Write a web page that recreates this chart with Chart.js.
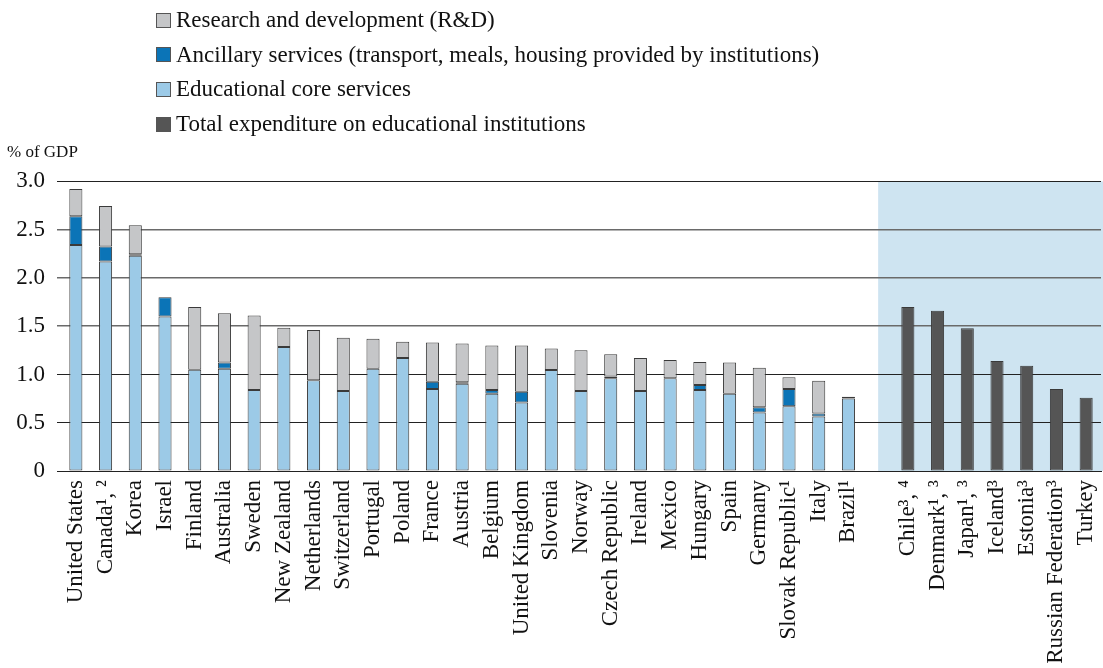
<!DOCTYPE html>
<html>
<head>
<meta charset="utf-8">
<script src="https://cdn.jsdelivr.net/npm/chart.js@4/dist/chart.umd.min.js"></script>
<style>
  body { margin: 0; background: #fff; }
  #wrap { position: relative; width: 1103px; height: 668px; }
  #legend { position: absolute; left: 0; top: 0; font-family: 'Liberation Serif', 'DejaVu Serif', serif; font-size: 23px; color: #111; }
  .item { position: absolute; left: 156px; height: 34px; display: flex; align-items: center; white-space: nowrap; }
  .box { width: 15px; height: 15px; border: 1px solid #555; margin-right: 5px; box-sizing: border-box; }
</style>
</head>
<body>
<div id="wrap">
  <canvas id="chart"></canvas>
  <div id="legend"></div>
</div>
<script>
// countries with the breakdown, then countries with only the total
const countries = ['United States', 'Canada¹, ²', 'Korea', 'Israel', 'Finland', 'Australia', 'Sweden',
  'New Zealand', 'Netherlands', 'Switzerland', 'Portugal', 'Poland', 'France', 'Austria', 'Belgium',
  'United Kingdom', 'Slovenia', 'Norway', 'Czech Republic', 'Ireland', 'Mexico', 'Hungary', 'Spain',
  'Germany', 'Slovak Republic¹', 'Italy', 'Brazil¹'];
const totalCountries = ['Chile³, ⁴', 'Denmark¹, ³', 'Japan¹, ³', 'Iceland³', 'Estonia³', 'Russian Federation³', 'Turkey'];

const coreServices = [2.34, 2.17, 2.23, 1.60, 1.05, 1.06, 0.84, 1.285, 0.94, 0.83, 1.06, 1.17, 0.85, 0.905,
  0.80, 0.71, 1.045, 0.83, 0.96, 0.83, 0.96, 0.84, 0.80, 0.605, 0.67, 0.565, 0.75];
const ancillary = [0.30, 0.155, 0.015, 0.20, null, 0.065, null, null, null, null, null, null, 0.075, 0.015,
  0.04, 0.11, null, null, 0.02, null, null, 0.05, null, 0.055, 0.18, 0.03, null];
const researchDev = [0.28, 0.42, 0.30, null, 0.65, 0.51, 0.77, 0.20, 0.52, 0.55, 0.31, 0.17, 0.405, 0.40,
  0.46, 0.48, 0.225, 0.42, 0.23, 0.34, 0.19, 0.24, 0.325, 0.41, 0.12, 0.34, 0.02];
const totalExp = [1.70, 1.66, 1.48, 1.14, 1.09, 0.85, 0.76];

const yTicks = [0, 0.5, 1.0, 1.5, 2.0, 2.5, 3.0];

const FONT = "'Liberation Serif', 'DejaVu Serif', serif";

// one empty slot between the two groups
const labels = [...countries, '', ...totalCountries];
const gap = totalCountries.length + 1;
const left = arr => [...arr, ...Array(gap).fill(null)];
const right = arr => [...Array(countries.length + 1).fill(null), ...arr];

const datasets = [
  { label: 'Educational core services', data: left(coreServices), backgroundColor: '#9ccae7' },
  { label: 'Ancillary services (transport, meals, housing provided by institutions)', data: left(ancillary), backgroundColor: '#0b74b7' },
  { label: 'Research and development (R&D)', data: left(researchDev), backgroundColor: '#c5c6c8' },
  { label: 'Total expenditure on educational institutions', data: right(totalExp), backgroundColor: '#555555' }
];
datasets.forEach(d => {
  d.borderColor = '#3a3a3a';
  d.borderWidth = 1;
  d.borderSkipped = false;
  d.barPercentage = 0.44;
  d.categoryPercentage = 1.0;
});

// shaded panel behind the total-only countries
const shadePlugin = {
  id: 'shade',
  beforeDraw(chart) {
    const { ctx, chartArea, scales } = chart;
    const x0 = scales.x.getPixelForValue(countries.length);
    ctx.save();
    ctx.fillStyle = '#cee4f1';
    ctx.fillRect(x0, chartArea.top, chart.width - x0, chartArea.bottom - chartArea.top);
    ctx.restore();
  }
};

new Chart(document.getElementById('chart'), {
  type: 'bar',
  data: { labels, datasets },
  plugins: [shadePlugin],
  options: {
    responsive: true,
    maintainAspectRatio: false,
    animation: false,
    layout: { padding: { left: 7, right: 2, top: 0, bottom: 0 } },
    plugins: {
      legend: { display: false },
      tooltip: { enabled: false },
      title: {
        display: true,
        text: '% of GDP',
        align: 'start',
        color: '#111',
        font: { family: FONT, size: 17, weight: 'normal', lineHeight: 1.2 },
        padding: { top: 142, bottom: 19 }
      }
    },
    scales: {
      x: {
        stacked: true,
        grid: { display: false, drawTicks: false },
        border: { color: '#222', width: 1 },
        ticks: {
          autoSkip: false, minRotation: 90, maxRotation: 90, padding: 9,
          color: '#111', font: { family: FONT, size: 23 }
        },
        afterFit: s => { s.height = 197; s.paddingLeft = 0; s.paddingRight = 0; }
      },
      y: {
        stacked: true,
        min: 0, max: 3,
        afterBuildTicks: s => { s.ticks = yTicks.map(v => ({ value: v })); },
        afterFit: s => { s.width = 54; s.paddingTop = 0; s.paddingBottom = 0; },
        border: { display: false },
        grid: {
          color: c => (c.tick && c.tick.value >= 1.5 && c.tick.value <= 2.5) ? '#6a6a6a' : '#222',
          lineWidth: c => (c.tick && c.tick.value >= 1.5 && c.tick.value <= 2.5) ? 1.5 : 1,
          tickLength: 4
        },
        ticks: {
          padding: 12, color: '#111', font: { family: FONT, size: 23 },
          callback: v => v === 0 ? '0' : v.toFixed(1)
        }
      }
    }
  }
});

// legend in the original order
const legendOrder = [2, 1, 0, 3];
const legendEl = document.getElementById('legend');
legendOrder.forEach((idx, i) => {
  const d = datasets[idx];
  const item = document.createElement('div');
  item.className = 'item';
  item.style.top = (3 + i * 34.7) + 'px';
  item.innerHTML = `<span class="box" style="background:${d.backgroundColor}"></span><span>${d.label}</span>`;
  legendEl.appendChild(item);
});
</script>
</body>
</html>
